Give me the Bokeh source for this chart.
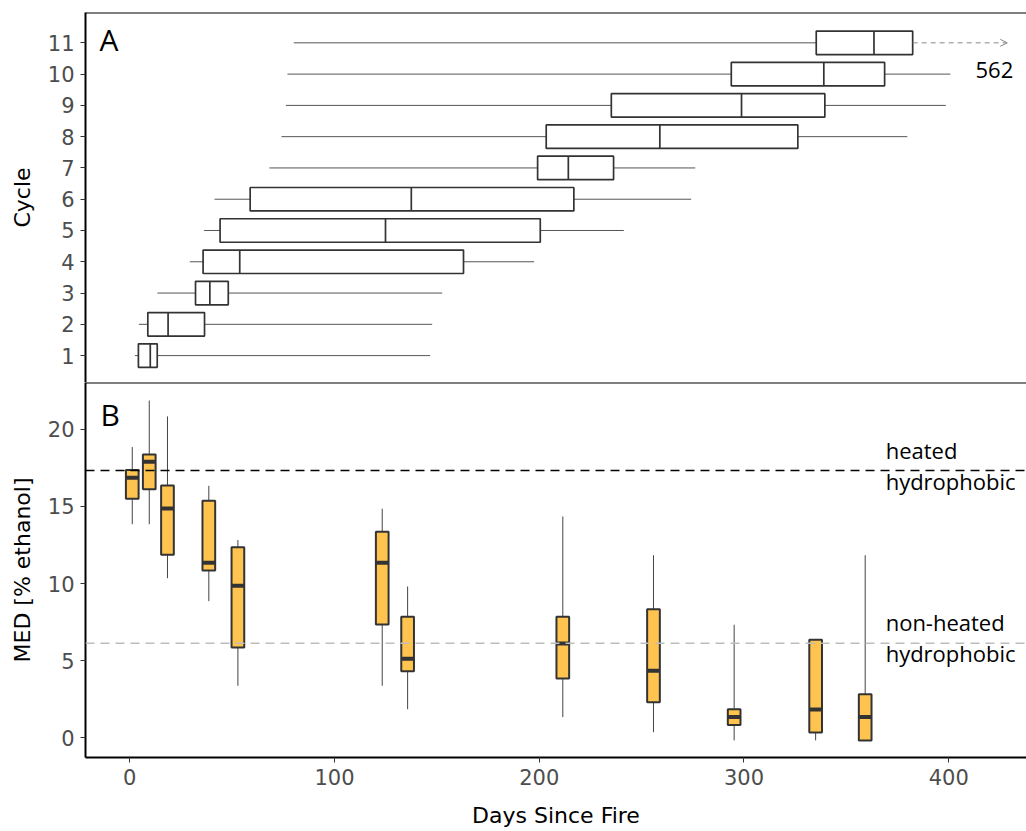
from bokeh.plotting import figure
from bokeh.layouts import column
from bokeh.models import Range1d, Span, Arrow, OpenHead, ColumnDataSource, FixedTicker
from bokeh.core.properties import value
from bokeh.embed import file_html
from bokeh.resources import INLINE

# ---------------- data: panel A (sampling days per cycle) ----------------
cycles = [1, 2, 3, 4, 5, 6, 7, 8, 9, 10, 11]
cyc_wlo = [2.5, 4.4, 13.5, 29.3, 36.3, 41.4, 68.2, 74.1, 76.2, 77.0, 80.1]
cyc_q1 = [4.2, 8.8, 32.1, 35.8, 44.1, 58.8, 199.2, 203.4, 235.2, 293.8, 335.3]
cyc_med = [10.0, 18.7, 39.1, 53.7, 124.9, 137.5, 214.2, 258.9, 298.8, 339.0, 363.5]
cyc_q3 = [13.4, 36.5, 48.1, 163.0, 200.5, 216.9, 236.3, 326.3, 339.5, 368.7, 382.4]
cyc_whi = [146.7, 147.7, 152.6, 197.5, 241.3, 274.2, 276.2, 379.8, 398.6, 400.8, 562.0]
cycle_ticks = cycles

# ---------------- data: panel B (MED per sampling date) ----------------
med_day = [1.2, 9.5, 18.4, 38.6, 52.8, 123.3, 135.7, 211.5, 255.8, 295.2, 335.0, 359.2]
med_wlo = [13.85, 13.85, 10.35, 8.86, 3.37, 3.37, 1.85, 1.34, 0.36, -0.17, -0.17, -0.17]
med_q1 = [15.5, 16.12, 11.87, 10.85, 5.86, 7.35, 4.32, 3.85, 2.31, 0.82, 0.34, -0.17]
med_med = [16.86, 17.9, 14.87, 11.35, 9.86, 11.35, 5.12, 6.12, 4.34, 1.34, 1.84, 1.34]
med_q3 = [17.36, 18.37, 16.36, 15.37, 12.36, 13.36, 7.85, 7.85, 8.34, 1.85, 6.35, 2.83]
med_whi = [18.85, 21.87, 20.84, 16.34, 12.82, 14.85, 9.81, 14.35, 11.84, 7.33, 6.35, 11.84]
heated_threshold = 17.33
nonheated_threshold = 6.13
day_ticks = [0, 100, 200, 300, 400]
med_ticks = [0, 5, 10, 15, 20]

# annotations
ann_b_x = [369.2, 369.2, 369.2, 369.2]
ann_b_y = [18.63, 16.68, 7.5, 5.49]
ann_b_text = ["heated", "hydrophobic", "non-heated", "hydrophobic"]
trunc_label = "562"
trunc_label_pos = (413.1, 10.14)
trunc_arrow_end = 428.6
panel_a_pos = (-14.8, 11.12)
panel_b_pos = (-14.3, 20.98)

X_START, X_END = -21.64, 438.0
A_Y = (0.14, 11.97)
B_Y = (-1.28, 23.04)

BOX_H = 0.375
BOX_W = 6.2
EDGE = "#333333"
FILL = "#FEC44F"
TICKFONT = "DejaVu Sans"
ANNFONT = "Open Sans"

x_range = Range1d(X_START, X_END)


def style_axis(ax):
    ax.axis_line_color = "black"
    ax.axis_line_width = 2
    ax.major_tick_line_color = EDGE
    ax.major_tick_line_width = 1
    ax.major_tick_out = 5
    ax.major_tick_in = 0
    ax.minor_tick_line_color = None
    ax.major_label_text_color = "#4d4d4d"
    ax.major_label_text_font = TICKFONT
    ax.major_label_text_font_size = "21px"
    ax.major_label_standoff = 6
    ax.axis_label_text_font = TICKFONT
    ax.axis_label_text_font_size = "22px"
    ax.axis_label_text_font_style = "normal"
    ax.axis_label_text_color = "black"
    ax.axis_label_standoff = 10


# ---------------- panel A ----------------
p1 = figure(width=1026, height=382, x_range=x_range, y_range=Range1d(*A_Y),
            output_backend="svg", toolbar_location=None,
            min_border_left=85, min_border_top=12, min_border_bottom=0, min_border_right=0)
p1.xaxis.visible = False
p1.grid.visible = False
p1.outline_line_color = None
p1.yaxis.ticker = FixedTicker(ticks=cycle_ticks)
p1.yaxis.axis_label = "Cycle"
style_axis(p1.yaxis[0])
p1.add_layout(Span(location=A_Y[1], dimension="width", line_color="black", line_width=2))

n = len(cycles)
srcA = ColumnDataSource(dict(
    y=cycles,
    bot=[c - BOX_H for c in cycles], top=[c + BOX_H for c in cycles],
    wlo=cyc_wlo, q1=cyc_q1, med=cyc_med, q3=cyc_q3,
))
p1.segment(x0="wlo", y0="y", x1="q1", y1="y", source=srcA, line_color="#555555", line_width=1)
hi_idx = [i for i in range(n) if cyc_whi[i] <= X_END]
p1.segment(x0=[cyc_q3[i] for i in hi_idx], y0=[cycles[i] for i in hi_idx],
           x1=[cyc_whi[i] for i in hi_idx], y1=[cycles[i] for i in hi_idx],
           line_color="#555555", line_width=1)
for i in range(n):
    if cyc_whi[i] > X_END:
        p1.add_layout(Arrow(x_start=cyc_q3[i], y_start=cycles[i], x_end=trunc_arrow_end, y_end=cycles[i],
                            line_color="#888888", line_width=1, line_dash="5 4",
                            end=OpenHead(size=7, line_color="#888888", line_width=1)))
p1.quad(left="q1", right="q3", bottom="bot", top="top", source=srcA,
        fill_color="white", line_color=EDGE, line_width=1.7)
p1.segment(x0="med", y0="bot", x1="med", y1="top", source=srcA, line_color=EDGE, line_width=1.7)
p1.text(x=[trunc_label_pos[0]], y=[trunc_label_pos[1]], text=[trunc_label],
        text_font=value(ANNFONT), text_font_size="22px", text_color="black",
        text_align="left", text_baseline="alphabetic")
p1.text(x=[panel_a_pos[0]], y=[panel_a_pos[1]], text=["A"], text_font=value(ANNFONT), text_font_size="30px",
        text_color="black", text_align="left", text_baseline="alphabetic")

# ---------------- panel B ----------------
p2 = figure(width=1026, height=449, x_range=x_range, y_range=Range1d(*B_Y),
            output_backend="svg", toolbar_location=None,
            min_border_left=85, min_border_top=0, min_border_bottom=74, min_border_right=0)
p2.grid.visible = False
p2.outline_line_color = None
p2.xaxis.ticker = FixedTicker(ticks=day_ticks)
p2.yaxis.ticker = FixedTicker(ticks=med_ticks)
p2.xaxis.axis_label = "Days Since Fire"
p2.yaxis.axis_label = "MED [% ethanol]"
style_axis(p2.xaxis[0])
style_axis(p2.yaxis[0])
p2.xaxis.axis_label_standoff = 15
p2.add_layout(Span(location=B_Y[1], dimension="width", line_color="black", line_width=2))
p2.add_layout(Span(location=heated_threshold, dimension="width", line_color="black",
                   line_width=1.6, line_dash="9 6"))
p2.add_layout(Span(location=nonheated_threshold, dimension="width", line_color="#bdbdbd",
                   line_width=1.6, line_dash="9 6"))

srcB = ColumnDataSource(dict(
    x=med_day, wlo=med_wlo, q1=med_q1, med=med_med, q3=med_q3, whi=med_whi,
    xl=[d - BOX_W / 2 for d in med_day], xr=[d + BOX_W / 2 for d in med_day],
))
p2.segment(x0="x", y0="q3", x1="x", y1="whi", source=srcB, line_color="#444444", line_width=1)
p2.segment(x0="x", y0="wlo", x1="x", y1="q1", source=srcB, line_color="#444444", line_width=1)
p2.vbar(x="x", width=BOX_W, bottom="q1", top="q3", source=srcB,
        fill_color=FILL, line_color=EDGE, line_width=2)
p2.segment(x0="xl", y0="med", x1="xr", y1="med", source=srcB, line_color=EDGE, line_width=4)

p2.text(x=ann_b_x, y=ann_b_y, text=ann_b_text, text_font=value(ANNFONT), text_font_size="22px",
        text_color="black", text_align="left", text_baseline="alphabetic")
p2.text(x=[panel_b_pos[0]], y=[panel_b_pos[1]], text=["B"], text_font=value(ANNFONT), text_font_size="30px",
        text_color="black", text_align="left", text_baseline="alphabetic")

layout = column(p1, p2, spacing=0)
open("out.html", "w").write(file_html(layout, INLINE))
